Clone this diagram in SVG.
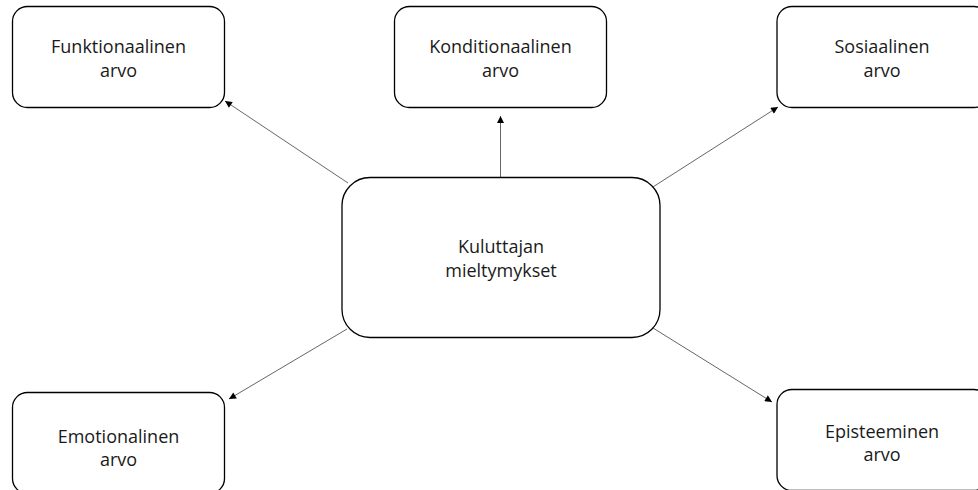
<svg xmlns="http://www.w3.org/2000/svg" width="978" height="490" viewBox="0 0 978 490">
<style>
.box{fill:#fff;stroke:#000;stroke-width:1.3}
.t{font-family:"Open Sans","Liberation Sans",sans-serif;font-size:18px;fill:#1a1a1a;text-anchor:middle}
.c{stroke:#333;stroke-width:0.75;fill:none;marker-end:url(#ah)}
</style>
<defs>
<marker id="ah" viewBox="0 0 10 10" refX="10" refY="5" markerWidth="9" markerHeight="7" markerUnits="userSpaceOnUse" orient="auto">
<path d="M0,0 L10,5 L0,10 z" fill="#000"/>
</marker>
</defs>
<rect width="978" height="490" fill="#fff"/>
<g id="connectors">
<line class="c" x1="348" y1="183" x2="225" y2="101"/>
<line class="c" x1="500.5" y1="177" x2="500.5" y2="116"/>
<line class="c" x1="645" y1="192" x2="778" y2="107"/>
<line class="c" x1="347" y1="329" x2="229" y2="399"/>
<line class="c" x1="653" y1="328" x2="772" y2="402"/>
</g>
<g id="funktionaalinen">
<rect class="box" x="12.5" y="6.5" width="212" height="101" rx="15"/>
<text class="t" x="118.5" y="53">Funktionaalinen</text>
<text class="t" x="118.5" y="77">arvo</text>
</g>
<g id="konditionaalinen">
<rect class="box" x="394.5" y="6.5" width="212" height="101" rx="15"/>
<text class="t" x="500.5" y="53">Konditionaalinen</text>
<text class="t" x="500.5" y="77">arvo</text>
</g>
<g id="sosiaalinen">
<rect class="box" x="777" y="6.5" width="212" height="101" rx="15"/>
<text class="t" x="882" y="53">Sosiaalinen</text>
<text class="t" x="882" y="77">arvo</text>
</g>
<g id="kuluttajan">
<rect class="box" x="342" y="177.5" width="318" height="160" rx="28"/>
<text class="t" x="501" y="253">Kuluttajan</text>
<text class="t" x="501" y="277">mieltymykset</text>
</g>
<g id="emotionalinen">
<rect class="box" x="12.5" y="392.5" width="212" height="101" rx="15"/>
<text class="t" x="118.5" y="443">Emotionalinen</text>
<text class="t" x="118.5" y="466">arvo</text>
</g>
<g id="episteeminen">
<rect class="box" x="777" y="389.5" width="212" height="101" rx="15"/>
<text class="t" x="882" y="438">Episteeminen</text>
<text class="t" x="882" y="461">arvo</text>
</g>
</svg>
